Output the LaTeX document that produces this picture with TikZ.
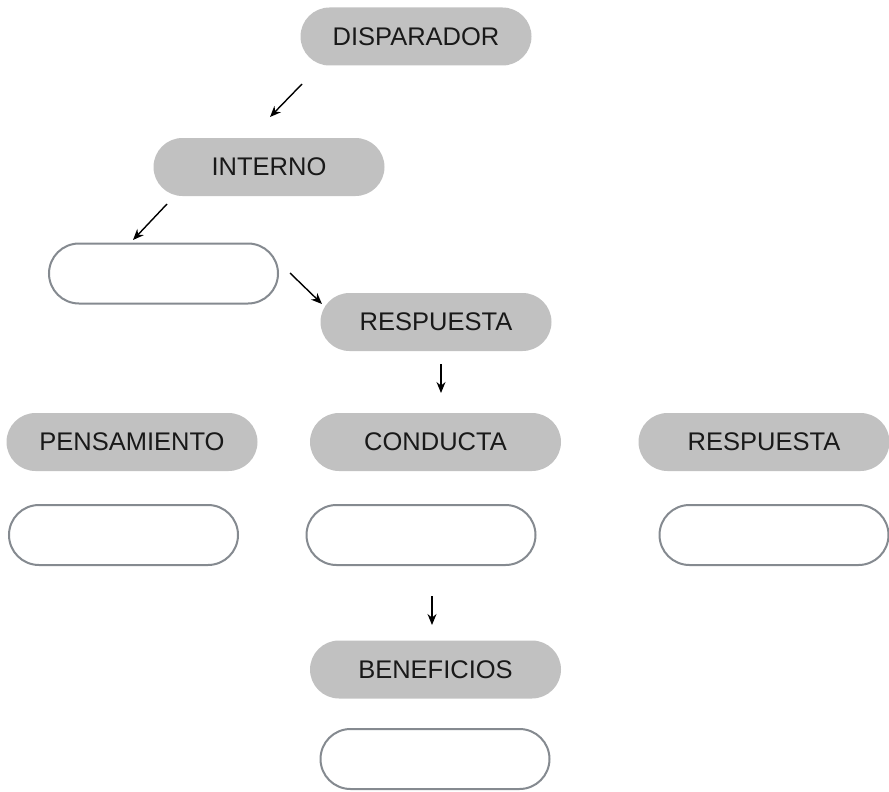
\documentclass[tikz,border=0pt]{standalone}
\usepackage{fontspec}
\setmainfont{Liberation Sans}
\usetikzlibrary{arrows.meta}
\definecolor{pillgray}{HTML}{C1C1C1}
\definecolor{rimgray}{HTML}{858A90}
\begin{document}
\begin{tikzpicture}[x=1pt,y=-1pt,
  pill/.style={rectangle,minimum width=231pt,minimum height=58pt,rounded corners=29pt,
    fill=pillgray,draw=none,inner sep=0pt,font=\fontsize{25.5}{28}\selectfont,text=black!90},
  widepill/.style={pill,minimum width=251pt},
  blank/.style={rectangle,minimum width=229pt,minimum height=60pt,rounded corners=30pt,
    fill=white,draw=rimgray,line width=2pt,inner sep=0pt},
  link/.style={line width=1.4pt,-{Stealth[length=11pt,width=9pt]}}]
\useasboundingbox (0,0) rectangle (889,792);
% top chain
\node[pill] (disp) at (416,36.5) {DISPARADOR};
\node[pill] (int) at (269,167) {INTERNO};
\node[blank] (b1) at (163.5,273.5) {};
\node[pill] (resp) at (436,322) {RESPUESTA};
% three columns
\node[widepill] (pens) at (132,442) {PENSAMIENTO};
\node[widepill] (cond) at (435.5,442) {CONDUCTA};
\node[widepill] (resp2) at (764,442) {RESPUESTA};
\node[blank] (b2) at (123.5,535) {};
\node[blank] (b3) at (421,535) {};
\node[blank] (b4) at (774,535) {};
% outcome
\node[widepill] (ben) at (435.5,669.5) {BENEFICIOS};
\node[blank] (b5) at (435,759) {};
% free-floating arrows
\coordinate (a1s) at (302,84);  \coordinate (a1e) at (270,117);
\coordinate (a2s) at (167,204); \coordinate (a2e) at (133,240);
\coordinate (a3s) at (290,273); \coordinate (a3e) at (322,304);
\coordinate (a4s) at (441,364); \coordinate (a4e) at (441,393);
\coordinate (a5s) at (432,596); \coordinate (a5e) at (432,625);
\draw[link] (a1s) -- (a1e);
\draw[link] (a2s) -- (a2e);
\draw[link] (a3s) -- (a3e);
\draw[link] (a4s) -- (a4e);
\draw[link] (a5s) -- (a5e);
\end{tikzpicture}
\end{document}
